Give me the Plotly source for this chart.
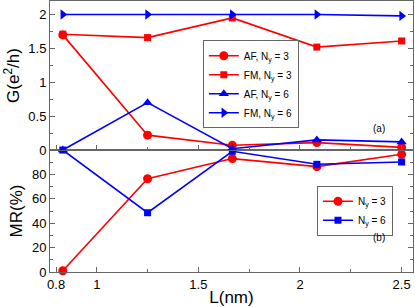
import plotly.graph_objects as go

L = [0.833, 1.25, 1.667, 2.083, 2.5]
G_AF3 = [1.70, 0.22, 0.07, 0.11, 0.04]
G_FM3 = [1.71, 1.66, 1.95, 1.52, 1.61]
G_AF6 = [0.0, 0.70, 0.02, 0.15, 0.12]
G_FM6 = [2.0, 2.0, 2.0, 2.0, 1.98]
MR3 = [1, 76.5, 93, 86.4, 96.5]
MR6 = [100, 48.6, 99, 88.3, 90.2]

RED = "#ff0000"
BLUE = "#0000ff"
AX = "#666666"
FONT = "Liberation Sans, Arial, sans-serif"

fig = go.Figure()

def add(y, name, color, symbol, size, xa, ya, legend):
    fig.add_trace(go.Scatter(
        x=L, y=y, name=name, mode="lines+markers",
        line=dict(color=color, width=1.6),
        marker=dict(color=color, symbol=symbol, size=size),
        xaxis=xa, yaxis=ya, legend=legend, cliponaxis=False))

add(G_AF3, "AF, N<sub>y</sub> = 3", RED, "circle", 9, "x2", "y2", "legend")
add(G_FM3, "FM, N<sub>y</sub> = 3", RED, "square", 7, "x2", "y2", "legend")
add(G_AF6, "AF, N<sub>y</sub> = 6", BLUE, "triangle-up", 9, "x2", "y2", "legend")
add(G_FM6, "FM, N<sub>y</sub> = 6", BLUE, "triangle-right", 9, "x2", "y2", "legend")
add(MR3, "N<sub>y</sub> = 3", RED, "circle", 9, "x", "y", "legend2")
add(MR6, "N<sub>y</sub> = 6", BLUE, "square", 7, "x", "y", "legend2")

xr = [0.77, 2.556]
xcommon = dict(range=xr, showline=True, linecolor=AX, linewidth=1, mirror=True,
               ticks="inside", ticklen=5, tickcolor=AX, showgrid=False, zeroline=False,
               tickvals=[0.8, 1, 1.5, 2, 2.5],
               minor=dict(tickvals=[1.25, 1.75, 2.25], ticks="inside", ticklen=3, tickcolor=AX),
               tickfont=dict(size=13, color="#000"))
ycommon = dict(showline=True, linecolor=AX, linewidth=1, mirror="ticks",
               ticks="inside", ticklen=5, tickcolor=AX, showgrid=False, zeroline=False,
               tickfont=dict(size=13, color="#000"))

fig.update_layout(
    width=415, height=307,
    margin=dict(l=50, r=2, t=1, b=35),
    paper_bgcolor="white", plot_bgcolor="white",
    font=dict(family=FONT, color="#000"),
    showlegend=True,
    xaxis=dict(**xcommon, anchor="y", domain=[0, 1],
               title=dict(text="L(nm)", font=dict(size=17), standoff=2)),
    xaxis2=dict(**xcommon, anchor="y2", matches="x", showticklabels=False),
    yaxis=dict(**ycommon, domain=[0, 0.45], range=[0, 100],
               tickvals=[0, 20, 40, 60, 80],
               minor=dict(dtick=10, ticks="inside", ticklen=3, tickcolor=AX),
               title=dict(text="MR(%)", font=dict(size=17), standoff=4)),
    yaxis2=dict(**ycommon, domain=[0.45, 1], range=[0, 2.2], dtick=0.5,
                minor=dict(dtick=0.25, ticks="inside", ticklen=3, tickcolor=AX),
                title=dict(text="G(e<sup>2</sup>/h)", font=dict(size=17), standoff=4)),
    legend=dict(x=0.421, y=0.855, xanchor="left", yanchor="top",
                bordercolor=AX, borderwidth=1, bgcolor="white",
                font=dict(size=10), itemwidth=30, tracegroupgap=0),
    legend2=dict(x=0.7355, y=0.318, xanchor="left", yanchor="top",
                 bordercolor=AX, borderwidth=1, bgcolor="white",
                 font=dict(size=10), itemwidth=30, tracegroupgap=0),
    annotations=[
        dict(text="(a)", x=0.928, y=0.531, xref="paper", yref="paper",
             showarrow=False, font=dict(size=10)),
        dict(text="(b)", x=0.928, y=0.0996, xref="paper", yref="paper",
             showarrow=False, font=dict(size=10)),
    ],
)

fig.write_html("out.html", config={"displayModeBar": False},
               post_script="document.body.style.margin='0px';")
